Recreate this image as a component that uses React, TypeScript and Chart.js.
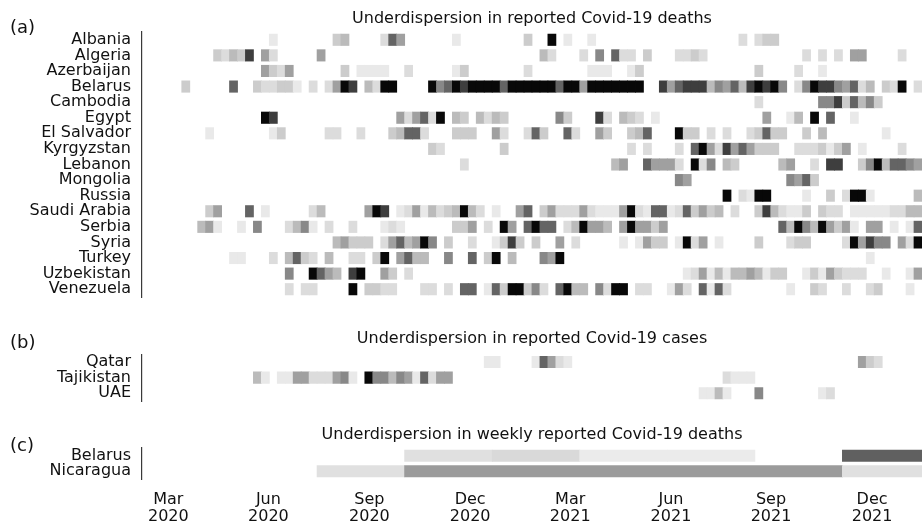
import React, { useEffect, useRef } from 'react';
import { Chart, registerables } from 'chart.js';

Chart.register(...registerables);

// ---------- data ----------
// x unit: analysis window index (0..97). Each pair = [window, shade level 1..9]
const WINDOW_COUNT = 98;

const deathCountries = [
  'Albania', 'Algeria', 'Azerbaijan', 'Belarus', 'Cambodia', 'Egypt', 'El Salvador',
  'Kyrgyzstan', 'Lebanon', 'Mongolia', 'Russia', 'Saudi Arabia', 'Serbia', 'Syria',
  'Turkey', 'Uzbekistan', 'Venezuela',
];

const albania = [[16,1],[24,3],[25,4],[30,2],[31,7],[32,5],[39,1],[48,3],[51,9],[53,1],[56,1],[75,2],[77,2],[78,3],[79,3]];
const algeria = [[9,3],[10,2],[11,4],[12,3],[13,8],[15,5],[16,2],[22,5],[50,4],[51,2],[55,2],[57,6],[59,7],[60,2],[61,2],[63,3],[67,2],[68,2],[69,3],[70,2],[83,2],[85,2],[87,2],[89,5],[90,5],[95,2]];
const azerbaijan = [[15,5],[16,3],[17,2],[18,5],[25,3],[27,1],[28,1],[29,1],[30,1],[33,2],[39,1],[40,3],[48,2],[56,1],[57,1],[58,1],[61,1],[62,3],[77,3],[82,2],[85,1]];
const belarus = [[5,3],[11,7],[14,3],[15,2],[16,2],[17,3],[18,3],[19,1],[21,2],[23,2],[24,5],[25,9],[26,8],[28,4],[29,2],[30,9],[31,9],[36,9],[37,6],[38,7],[39,9],[40,8],[41,9],[42,9],[43,9],[44,9],[45,7],[46,9],[47,9],[48,9],[49,9],[50,9],[51,9],[52,7],[53,9],[54,9],[55,5],[56,9],[57,9],[58,9],[59,9],[60,9],[61,9],[62,9],[65,8],[66,5],[67,7],[68,8],[69,8],[70,8],[71,4],[72,6],[73,5],[74,7],[75,4],[76,8],[77,9],[78,8],[79,9],[80,6],[82,2],[83,6],[84,9],[85,8],[86,8],[87,6],[88,5],[89,7],[90,2],[91,4],[93,3],[94,2],[95,9],[97,2]];
const cambodia = [[77,2],[85,6],[86,6],[87,8],[88,3],[89,7],[90,4],[91,6],[92,3]];
const egypt = [[15,9],[16,8],[32,5],[33,2],[34,5],[35,7],[36,2],[37,9],[39,4],[40,3],[42,4],[43,2],[44,4],[45,3],[52,6],[53,3],[57,8],[58,2],[60,4],[61,3],[62,2],[64,1],[78,5],[81,1],[82,4],[84,9],[86,7],[89,1]];
const elSalvador = [[8,1],[16,1],[17,3],[23,2],[24,2],[27,2],[31,3],[32,4],[33,7],[34,7],[35,2],[39,3],[40,3],[41,3],[44,5],[45,2],[48,2],[49,7],[50,3],[53,7],[54,2],[57,5],[58,3],[61,3],[62,4],[63,7],[67,9],[68,3],[69,3],[71,2],[73,2],[76,2],[77,3],[78,7],[79,3],[80,3],[83,3],[85,4],[93,1]];
const kyrgyzstan = [[36,3],[37,2],[45,3],[61,2],[63,2],[67,2],[69,7],[70,9],[71,5],[72,2],[73,8],[74,5],[75,7],[76,5],[77,3],[78,3],[79,3],[82,2],[83,2],[84,2],[85,3],[86,1],[87,3],[88,5],[90,1],[95,2]];
const lebanon = [[40,2],[59,4],[60,5],[63,7],[64,5],[65,5],[66,5],[67,2],[69,9],[70,2],[71,6],[73,4],[74,3],[80,4],[81,5],[84,2],[86,8],[87,8],[90,3],[91,6],[92,9],[93,4],[94,7],[95,7],[96,6],[97,5]];
const mongolia = [[67,6],[68,5],[81,6],[82,5],[83,7],[84,3]];
const russia = [[73,9],[75,2],[76,1],[77,9],[78,9],[83,1],[86,3],[88,2],[89,9],[90,9],[91,1],[97,4]];
const saudiArabia = [[8,3],[9,5],[13,7],[15,1],[21,2],[22,4],[28,5],[29,9],[30,8],[32,1],[33,2],[34,5],[35,1],[36,4],[37,2],[38,3],[39,4],[40,9],[41,4],[42,2],[44,1],[47,5],[48,7],[50,3],[51,5],[52,2],[53,2],[54,2],[55,5],[56,2],[57,1],[58,1],[59,1],[60,5],[61,9],[62,2],[63,1],[64,7],[65,7],[66,1],[67,2],[68,7],[69,3],[70,5],[71,3],[72,4],[74,2],[77,3],[78,8],[79,4],[80,2],[81,1],[82,1],[83,3],[85,3],[86,2],[87,2],[89,1],[90,1],[91,1],[92,1],[93,1],[94,2],[95,2],[96,4],[97,4]];
const serbia = [[7,4],[8,5],[9,1],[12,1],[14,6],[18,2],[19,4],[20,6],[21,1],[23,2],[26,2],[30,1],[31,2],[32,1],[39,3],[40,3],[41,5],[43,2],[45,9],[46,5],[48,7],[49,9],[50,7],[51,7],[53,2],[54,4],[55,9],[56,5],[57,5],[58,4],[60,5],[61,9],[62,5],[63,5],[64,3],[65,5],[80,7],[81,4],[82,9],[83,6],[84,4],[85,9],[86,5],[87,3],[88,5],[89,1],[91,5],[92,5],[94,1],[96,1],[97,7]];
const syria = [[24,4],[25,5],[26,3],[27,3],[28,3],[30,2],[31,5],[32,7],[33,4],[34,5],[35,9],[36,6],[38,3],[41,2],[44,1],[45,3],[46,8],[47,3],[49,3],[52,5],[54,2],[60,1],[62,1],[63,5],[64,3],[65,3],[67,1],[68,9],[69,2],[70,5],[72,1],[77,3],[81,2],[82,3],[83,3],[88,2],[89,9],[90,5],[91,8],[92,6],[93,6],[95,5],[96,2],[97,9]];
const turkey = [[11,1],[12,1],[16,2],[18,4],[19,7],[20,3],[21,2],[23,4],[26,2],[27,2],[29,3],[30,9],[32,5],[33,7],[34,4],[35,4],[38,6],[41,7],[43,3],[44,9],[46,4],[50,6],[51,5],[52,9],[91,1]];
const uzbekistan = [[18,6],[21,9],[22,7],[23,5],[24,4],[26,8],[27,9],[30,5],[31,3],[33,2],[68,1],[69,2],[70,5],[71,1],[72,4],[73,1],[74,4],[75,4],[76,5],[77,4],[78,1],[79,3],[80,3],[83,1],[84,3],[85,1],[86,5],[87,3],[88,2],[89,2],[90,2],[93,1],[96,1],[97,5]];
const venezuela = [[18,2],[20,2],[21,2],[26,9],[28,3],[29,3],[30,2],[31,2],[35,2],[36,2],[38,2],[40,7],[41,7],[43,1],[44,7],[45,3],[46,9],[47,9],[48,3],[49,6],[50,2],[52,7],[53,9],[54,4],[55,4],[57,6],[58,2],[59,9],[60,9],[62,2],[63,2],[66,1],[67,5],[68,2],[70,7],[71,1],[72,7],[73,2],[81,1],[84,3],[85,2],[88,2],[91,2],[92,3],[96,1]];

const deathSeries = [albania, algeria, azerbaijan, belarus, cambodia, egypt, elSalvador, kyrgyzstan, lebanon, mongolia, russia, saudiArabia, serbia, syria, turkey, uzbekistan, venezuela];

const caseCountries = ['Qatar', 'Tajikistan', 'UAE'];
const qatar = [[43,1],[44,1],[49,1],[50,7],[51,5],[52,2],[53,1],[90,5],[91,3],[92,2]];
const tajikistan = [[14,4],[15,1],[17,1],[18,1],[19,5],[20,5],[21,2],[22,2],[23,2],[24,5],[25,6],[26,1],[28,9],[29,6],[30,6],[31,4],[32,6],[33,5],[34,1],[35,7],[36,2],[37,5],[38,5],[73,2],[74,1],[75,1],[76,1]];
const uae = [[70,1],[71,1],[72,4],[73,1],[77,6],[85,1],[86,2]];
const caseSeries = [qatar, tajikistan, uae];

// weekly: [first window, end window, shade level]
const weeklyCountries = ['Belarus', 'Nicaragua'];
const belarusWeekly = [[33,44,1.7],[44,55,2.2],[55,66,0.9],[66,77,0.9],[88,98,7.1]];
const nicaraguaWeekly = [[22,33,1.7],[33,88,5.2],[88,98,1.7]];
const weeklySeries = [belarusWeekly, nicaraguaWeekly];

const tickPositions = [3.31, 15.88, 28.57, 41.23, 53.8, 66.46, 79.03, 91.73];
const tickMonths = ['Mar', 'Jun', 'Sep', 'Dec', 'Mar', 'Jun', 'Sep', 'Dec'];
const tickYears = ['2020', '2020', '2020', '2020', '2021', '2021', '2021', '2021'];

// ---------- styling ----------
const FONT = "'DejaVu Sans', 'Liberation Sans', sans-serif";
const GREYS = [255, 233, 220, 204, 187, 160, 136, 100, 62, 8];
function shade(level: number): string {
  const i = Math.max(0, Math.min(8, Math.floor(level)));
  const f = Math.max(0, Math.min(1, level - i));
  const g = Math.round(GREYS[i] + (GREYS[i + 1] - GREYS[i]) * f);
  return `rgb(${g},${g},${g})`;
}

function cellsFromWindows(countries: string[], series: number[][][]) {
  const out: any[] = [];
  series.forEach((row, r) => {
    row.forEach(([w, v]) => out.push({ x: [w, w + 1], y: countries[r], v }));
  });
  return out;
}
function cellsFromBlocks(countries: string[], series: number[][][]) {
  const out: any[] = [];
  series.forEach((row, r) => {
    row.forEach(([a, b, v]) => out.push({ x: [a, b], y: countries[r], v }));
  });
  return out;
}

type PanelProps = {
  countries: string[];
  cells: any[];
  title: string;
  top: number;
  height: number;
  titleTop: number;
  titleBottom: number;
  bottomPad: number;
  showX: boolean;
};

function Panel(p: PanelProps) {
  const ref = useRef<HTMLCanvasElement | null>(null);
  useEffect(() => {
    if (!ref.current) return;
    const chart = new Chart(ref.current, {
      type: 'bar',
      data: {
        labels: p.countries,
        datasets: [{
          data: p.cells,
          backgroundColor: (ctx: any) => shade(ctx.raw ? ctx.raw.v : 0),
          borderWidth: 0,
          barPercentage: 0.725,
          categoryPercentage: 1,
          inflateAmount: 0.4,
          grouped: false,
        } as any],
      },
      options: {
        indexAxis: 'y',
        animation: false,
        responsive: false,
        devicePixelRatio: 1,
        layout: { padding: { left: 0, right: 0, top: 0, bottom: p.bottomPad } },
        plugins: {
          legend: { display: false },
          tooltip: { enabled: false },
          title: {
            display: true,
            text: p.title,
            fullSize: false,
            color: '#111',
            font: { family: FONT, size: 16, weight: 'normal', lineHeight: 1.2 },
            padding: { top: p.titleTop, bottom: p.titleBottom },
          },
        },
        scales: {
          x: {
            type: 'linear',
            min: 0,
            max: WINDOW_COUNT,
            display: p.showX,
            grid: { display: false, drawTicks: false },
            border: { display: false },
            ticks: {
              autoSkip: false,
              maxRotation: 0,
              minRotation: 0,
              padding: 13,
              color: '#111',
              font: { family: FONT, size: 16, lineHeight: 1.04 },
              callback: (_v: any, i: number) => [tickMonths[i], tickYears[i]],
            },
            afterBuildTicks: (s: any) => {
              s.ticks = tickPositions.map((v) => ({ value: v }));
            },
            afterFit: (s: any) => {
              s.height = p.showX ? 46 : 0;
              s.paddingLeft = 0;
              s.paddingRight = 0;
            },
          },
          y: {
            type: 'category',
            offset: true,
            grid: { display: false, drawTicks: false },
            border: { display: true, color: '#3a3a3a', width: 1.2 },
            ticks: {
              autoSkip: false,
              padding: 11,
              color: '#111',
              font: { family: FONT, size: 16 },
            },
            afterFit: (s: any) => {
              s.width = 142;
              s.paddingTop = 0;
              s.paddingBottom = 0;
            },
          },
        },
      } as any,
    });
    return () => chart.destroy();
  }, []);
  return (
    <div style={{ position: 'absolute', left: 0, top: p.top, width: 922, height: p.height }}>
      <canvas ref={ref} width={922} height={p.height} style={{ width: 922, height: p.height, display: 'block' }} />
    </div>
  );
}

const letterStyle: React.CSSProperties = {
  position: 'absolute',
  left: 10,
  fontFamily: FONT,
  fontSize: 18,
  lineHeight: '18px',
  color: '#111',
};

export default function App() {
  const deathCells = cellsFromWindows(deathCountries, deathSeries);
  const caseCells = cellsFromWindows(caseCountries, caseSeries);
  const weeklyCells = cellsFromBlocks(weeklyCountries, weeklySeries);
  return (
    <div style={{ position: 'absolute', left: 0, top: 0, width: 922, height: 525, overflow: 'hidden', background: '#fff' }}>
      <Panel countries={deathCountries} cells={deathCells} title="Underdispersion in reported Covid-19 deaths"
        top={0} height={300} titleTop={8.9} titleBottom={3.9} bottomPad={3} showX={false} />
      <Panel countries={caseCountries} cells={caseCells} title="Underdispersion in reported Covid-19 cases"
        top={320} height={85} titleTop={8.8} titleBottom={6.2} bottomPad={4} showX={false} />
      <Panel countries={weeklyCountries} cells={weeklyCells} title="Underdispersion in weekly reported Covid-19 deaths"
        top={420} height={105} titleTop={5.4} titleBottom={3.4} bottomPad={0} showX={true} />
      <div style={{ ...letterStyle, top: 18 }}>(a)</div>
      <div style={{ ...letterStyle, top: 333 }}>(b)</div>
      <div style={{ ...letterStyle, top: 436 }}>(c)</div>
    </div>
  );
}
